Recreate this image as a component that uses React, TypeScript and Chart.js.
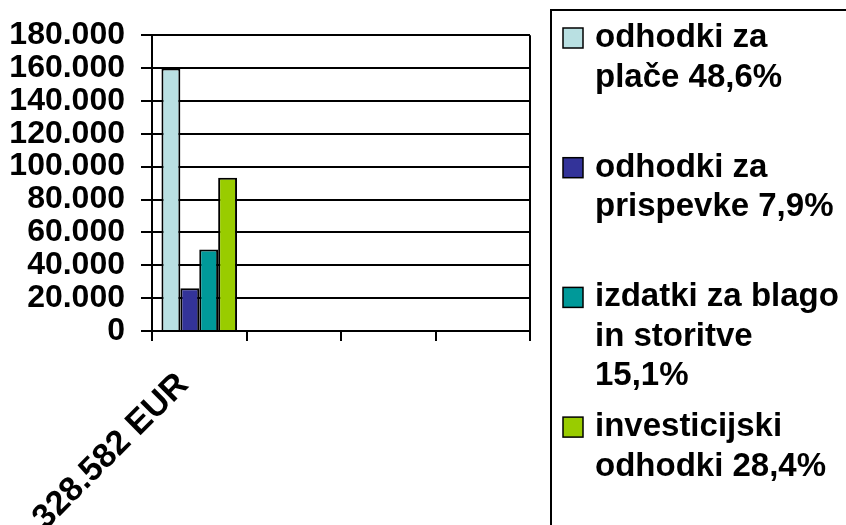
import React, { useEffect, useRef } from "react";
import { Chart, registerables } from "chart.js";

Chart.register(...registerables);

const categories = ["328.582 EUR", "", "", ""];
const seriesLabels = [
  ["odhodki za", "plače 48,6%"],
  ["odhodki za", "prispevke 7,9%"],
  ["izdatki za blago", "in storitve", "15,1%"],
  ["investicijski", "odhodki 28,4%"],
];
const seriesValues = [159700, 25960, 49620, 93320];
const seriesColors = ["#b9e0e2", "#333399", "#009999", "#99cc00"];
const yTicksMax = 180000;
const yStep = 20000;

const FONT = "'Liberation Sans', Arial, sans-serif";

function fmt(v: number): string {
  return String(v).replace(/\B(?=(\d{3})+(?!\d))/g, ".");
}

const frameAndLegend = {
  id: "frameAndLegend",
  afterDraw(chart: any) {
    const ctx = chart.ctx as CanvasRenderingContext2D;
    const a = chart.chartArea;
    ctx.save();
    ctx.strokeStyle = "#000";
    ctx.lineWidth = 2;
    ctx.beginPath();
    ctx.moveTo(a.right, a.top);
    ctx.lineTo(a.right, a.bottom);
    ctx.stroke();

    const boxX = 551;
    const boxY = 10;
    ctx.strokeRect(boxX, boxY, chart.width - boxX + 20, chart.height);

    ctx.font = `bold 33px ${FONT}`;
    ctx.textBaseline = "alphabetic";
    ctx.textAlign = "left";
    const itemTop0 = 28;
    const itemGap = 129.7;
    const lineH = 39.5;
    chart.data.datasets.forEach((ds: any, i: number) => {
      const top = itemTop0 + i * itemGap;
      ctx.fillStyle = ds.backgroundColor;
      ctx.fillRect(563, top, 20, 20);
      ctx.lineWidth = 1.5;
      ctx.strokeStyle = "#000";
      ctx.strokeRect(563, top, 20, 20);
      ctx.fillStyle = "#000";
      (ds.lines as string[]).forEach((t, j) => {
        ctx.fillText(t, 595, top + 19 + j * lineH);
      });
    });
    ctx.restore();
  },
};

export default function App() {
  const ref = useRef<HTMLCanvasElement | null>(null);

  useEffect(() => {
    document.body.style.margin = "0";
    const canvas = ref.current;
    if (!canvas) return;
    const chart = new Chart(canvas, {
      type: "bar",
      data: {
        labels: categories,
        datasets: seriesValues.map((v, i) => ({
          label: seriesLabels[i].join(" "),
          lines: seriesLabels[i],
          data: categories.map((_, k) => (k === 0 ? v : null)),
          backgroundColor: seriesColors[i],
          borderColor: "#000",
          borderWidth: 2,
          categoryPercentage: 0.8,
          barPercentage: 1,
        })) as any,
      },
      options: {
        animation: false,
        responsive: true,
        maintainAspectRatio: false,
        layout: { padding: { top: 32, right: 316, left: 0, bottom: 0 } },
        plugins: {
          legend: { display: false },
          tooltip: { enabled: false },
        },
        scales: {
          x: {
            afterFit: (scale: any) => {
              scale.height = 194;
            },
            grid: {
              display: true,
              drawOnChartArea: false,
              drawTicks: true,
              tickLength: 10,
              color: "#000",
              lineWidth: 2,
              offset: true,
            },
            border: { display: true, color: "#000", width: 2 },
            ticks: {
              autoSkip: false,
              minRotation: 45,
              maxRotation: 45,
              padding: 24,
              labelOffset: -16,
              color: "#000",
              font: { family: FONT, size: 34, weight: "bold" },
            },
          },
          y: {
            min: 0,
            max: yTicksMax,
            afterFit: (scale: any) => {
              scale.width = 152;
            },
            grid: {
              color: "#000",
              lineWidth: 2,
              drawTicks: true,
              tickLength: 11,
            },
            border: { display: true, color: "#000", width: 2 },
            ticks: {
              stepSize: yStep,
              autoSkip: false,
              padding: 16,
              color: "#000",
              font: { family: FONT, size: 32, weight: "bold" },
              callback: (v: any) => fmt(Number(v)),
            },
          },
        },
      },
      plugins: [frameAndLegend],
    });
    return () => chart.destroy();
  }, []);

  return (
    <div style={{ width: 846, height: 525, position: "relative", background: "#fff" }}>
      <canvas ref={ref} />
    </div>
  );
}
